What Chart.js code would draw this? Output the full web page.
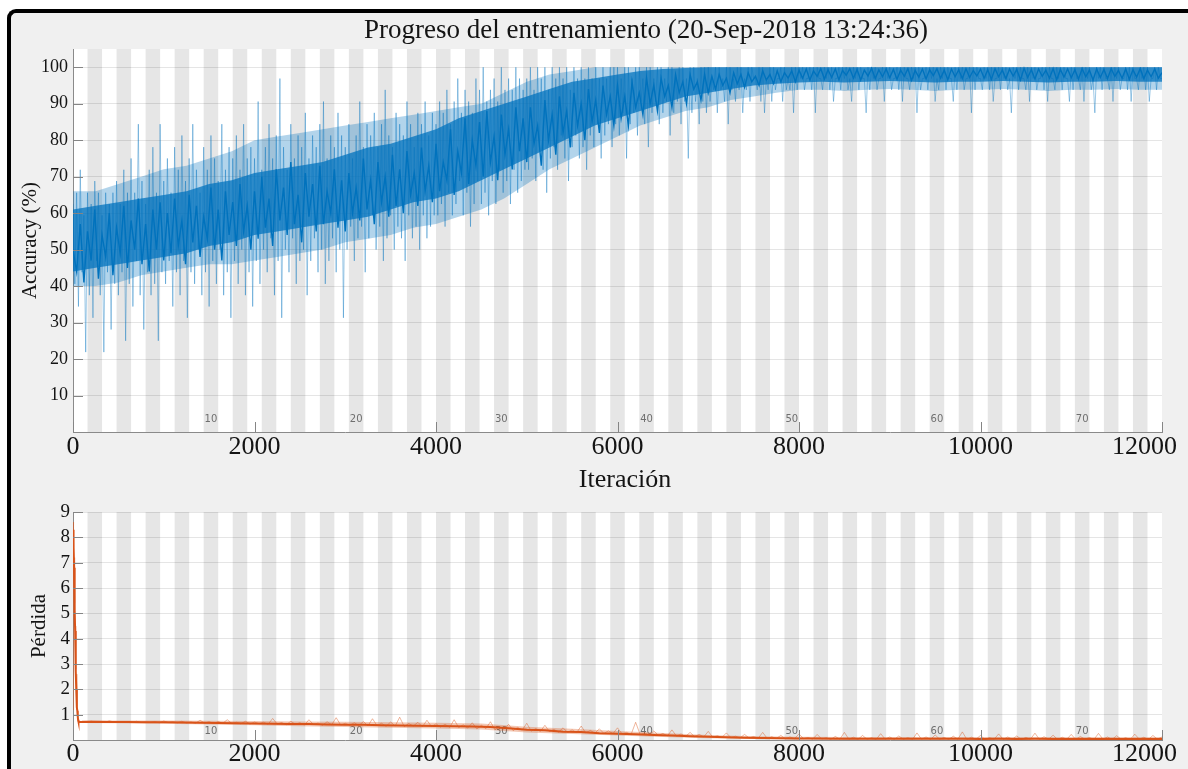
<!DOCTYPE html>
<html><head><meta charset="utf-8">
<script src="https://cdn.jsdelivr.net/npm/chart.js@4.4.1/dist/chart.umd.min.js"></script>
<style>
html,body{margin:0;padding:0;background:#fff;width:1188px;height:769px;overflow:hidden;}
#frame{position:absolute;left:7px;top:9px;width:1210px;height:800px;border-left:4px solid #000;border-top:4px solid #000;border-top-left-radius:9px;background:#f0f0f0;box-sizing:border-box;}
canvas{position:absolute;left:0;}
#c1{top:0}
#c2{top:490px}
</style></head><body>
<div id="frame"></div>
<canvas id="c1" width="1188" height="500"></canvas>
<canvas id="c2" width="1188" height="279"></canvas>
<script>
const figTitle = 'Progreso del entrenamiento (20-Sep-2018 13:24:36)';
const itersPerEpoch = 160;
const numEpochs = 75;
const epochLabels = [10, 20, 30, 40, 50, 60, 70];
const xTickValues = [0, 2000, 4000, 6000, 8000, 10000, 12000];
const accTickValues = [10, 20, 30, 40, 50, 60, 70, 80, 90, 100];
const lossTickValues = [1, 2, 3, 4, 5, 6, 7, 8, 9];

// mini-batch accuracy, one reading every 20 iterations
const accStep = 20;
const accRaw = [
62.5,40.6,65.6,34.4,71.9,43.8,59.4,21.9,65.6,37.5,62.5,31.3,68.8,46.9,65.6,37.5,59.4,21.9,65.6,43.8,62.5,28.1,65.6,40.6,68.8,37.5,62.5,43.8,71.9,25,65.6,40.6,75,34.4,65.6,46.9,84.4,37.5,68.8,28.1,62.5,43.8,71.9,37.5,78.1,40.6,65.6,25,84.4,43.8,
68.8,40.6,75,46.9,65.6,34.4,78.1,43.8,71.9,37.5,81.3,46.9,68.8,31.3,75,43.8,84.4,40.6,71.9,50,65.6,37.5,78.1,43.8,71.9,34.4,81.3,46.9,75,40.6,68.8,50,84.4,37.5,71.9,43.8,78.1,31.3,75,46.9,81.3,40.6,71.9,50,84.4,37.5,75,43.8,78.1,34.4,
75,46.9,90.6,40.6,71.9,50,78.1,43.8,84.4,53.1,75,37.5,81.3,46.9,96.9,31.3,78.1,50,71.9,43.8,84.4,53.1,75,40.6,81.3,46.9,78.1,50,87.5,37.5,75,46.9,81.3,53.1,78.1,43.8,84.4,50,90.6,40.6,75,46.9,81.3,53.1,78.1,43.8,87.5,50,81.3,31.3,
78.1,50,84.4,56.3,75,46.9,81.3,53.1,90.6,56.3,78.1,43.8,84.4,53.1,81.3,59.4,87.5,50,78.1,56.3,84.4,46.9,93.8,53.1,81.3,59.4,78.1,50,87.5,56.3,84.4,53.1,81.3,46.9,90.6,59.4,84.4,53.1,78.1,56.3,87.5,50,84.4,59.4,90.6,53.1,81.3,56.3,87.5,59.4,
84.4,59.4,90.6,62.5,87.5,56.3,93.8,65.6,84.4,59.4,90.6,62.5,96.9,68.8,87.5,59.4,93.8,65.6,90.6,56.3,87.5,62.5,96.9,68.8,93.8,62.5,100,65.6,90.6,59.4,93.8,68.8,96.9,62.5,90.6,71.9,100,65.6,93.8,68.8,96.9,62.5,93.8,71.9,100,65.6,96.9,68.8,93.8,71.9,
96.9,71.9,100,75,93.8,68.8,100,78.1,96.9,71.9,100,65.6,93.8,75,100,78.1,96.9,71.9,100,81.3,96.9,75,100,68.8,93.8,78.1,100,81.3,96.9,75,100,78.1,96.9,71.9,100,81.3,96.9,78.1,100,84.4,96.9,75,100,81.3,96.9,84.4,100,78.1,100,84.4,
100,81.3,96.9,87.5,100,75,100,84.4,96.9,87.5,100,81.3,100,90.6,96.9,84.4,100,78.1,100,87.5,96.9,90.6,100,84.4,100,87.5,96.9,90.6,100,81.3,100,87.5,96.9,90.6,100,84.4,100,90.6,96.9,75,100,87.5,100,90.6,96.9,84.4,100,90.6,100,87.5,
100,90.6,96.9,93.8,100,87.5,100,93.8,96.9,90.6,100,84.4,100,93.8,96.9,90.6,100,93.8,100,87.5,96.9,93.8,100,90.6,100,96.9,96.9,93.8,100,90.6,100,87.5,96.9,93.8,100,90.6,100,93.8,96.9,96.9,100,90.6,100,93.8,96.9,93.8,100,87.5,100,93.8,
100,96.9,100,93.8,96.9,96.9,100,93.8,100,87.5,100,96.9,96.9,93.8,100,96.9,100,93.8,100,90.6,96.9,96.9,100,93.8,100,96.9,100,93.8,96.9,90.6,100,96.9,100,93.8,100,96.9,96.9,87.5,100,93.8,100,96.9,100,93.8,96.9,96.9,100,90.6,100,96.9,
100,93.8,96.9,96.9,100,93.8,100,90.6,100,96.9,96.9,93.8,100,96.9,100,87.5,100,93.8,96.9,96.9,100,93.8,100,96.9,100,90.6,96.9,93.8,100,96.9,100,93.8,100,96.9,96.9,90.6,100,93.8,100,96.9,100,93.8,96.9,96.9,100,87.5,100,93.8,100,96.9,
96.9,93.8,100,96.9,100,93.8,100,90.6,96.9,96.9,100,93.8,100,96.9,100,93.8,96.9,87.5,100,96.9,100,93.8,100,96.9,96.9,93.8,100,90.6,100,96.9,100,93.8,96.9,96.9,100,93.8,100,90.6,100,96.9,96.9,93.8,100,96.9,100,93.8,100,96.9,96.9,90.6,
100,93.8,100,96.9,96.9,93.8,100,90.6,100,96.9,100,93.8,96.9,87.5,100,96.9,100,93.8,100,96.9,96.9,93.8,100,90.6,100,96.9,100,93.8,96.9,96.9,100,93.8,100,90.6,100,96.9,96.9,93.8,100,96.9,100,93.8,100,90.6,96.9,96.9,100,93.8,100,96.9,
96.9];
// smoothed accuracy, one reading every 40 iterations
const accSmoothStep = 40;
const accSmooth = [
50,44,57,41,55,47,61,42,54,48,60,43,56,49,62,45,58,50,64,46,57,44,61,50,63,
47,60,49,64,51,58,46,65,52,62,48,59,53,67,50,61,47,66,54,63,51,68,55,62,50,
66,53,70,56,64,51,72,58,67,54,74,57,65,52,71,59,68,55,73,57,66,60,72,56,69,
55,71,60,67,58,75,61,69,57,74,63,70,59,76,62,72,60,77,65,71,62,78,66,73,63,
79,66,74,69,83,65,77,71,86,68,80,73,85,70,88,74,81,69,87,76,83,72,89,77,86,
74,89,79,84,73,91,80,87,76,92,82,88,78,93,84,90,80,94,85,91,82,95,87,92,84,
95,86,92,84,96,89,93,87,97,90,95,88,97,92,95,89,98,93,96,90,98,94,96,91,98,
93,97.5,94,98,95,97,93,98.5,95.5,98,94.5,98.5,96,97.5,95,99,96.5,98,95.5,99,96,98.5,97,99,96,
99.2,97,99.5,96.5,99,97.5,99.6,96.8,99.3,97.2,99.5,96.6,99.1,97.8,99.6,97,99.4,96.5,99.2,97.6,99.7,96.9,99.3,97.4,99.5,
97.1,99.4,96.7,99.2,97.5,99.6,96.4,99.1,97.3,99.5,96.8,99.3,97.7,99.6,97,99.2,96.6,99.5,97.4,99.3,96.9,99.6,97.2,99.1,97.6,
99.5,97,99.3,96.7,99.6,97.4,99.2,96.9,99.5,97.6,99.4,96.5,99.7,97.2,99.3,96.8,99.5,97.5,99.2,97,99.6,96.6,99.4,97.3,99.5,
97.1,99.3,96.8,99.6,97.4,99.2,96.5,99.5,97.2,99.4,96.9,99.6,97.5,99.1,97,99.5,96.7,99.3,97.3,99.6,96.9,99.2,97.4,99.5,97,
98.5];
// dense cores of the two accuracy traces, read every 250 iterations
const accBandStep = 250;
const accLightLo = [40,40,41,43,44,45,46,46,47,48,49,50,52,53,54,56,57,59,61,64,68,72,75,78,81,84,86,88,89,91,92,93,
  93.8,93.8,93.5,93.8,94,93.8,93.5,93.8,93.8,94,93.8,93.5,93.8,93.8,94,93.8,93.8];
const accLightHi = [66,66,68,70,72,73,75,77,80,81,82,83,84,85,86,87,88,89,90,93,96,98,99,
  100,100,100,100,100,100,100,100,100,100,100,100,100,100,100,100,100,100,100,100,100,100,100,100,100,100];
const accDarkLo = [44,45,46,47,48,49,51,52,54,55,56,57,58,59,61,63,64,66,69,72,75,78,81,84,86,88,90,92,93,94,95,95.5,
  95.8,96,95.8,96,96.2,96,95.8,96,96,96.2,96,95.8,96,96,96.2,96,96];
const accDarkHi = [61,62,63,64,65,66,68,69,71,72,73,74,76,78,79,81,83,86,88,90,92,94,96,97,98,99,99.5,99.8,
  100,100,100,100,100,100,100,100,100,100,100,100,100,100,100,100,100,100,100,100,100];

// loss: first iterations in detail, then regular readings
const lossEarlyIter = [0, 4, 8, 12, 16, 20, 24, 28, 32, 36, 40, 44, 48, 52, 56, 60, 80];
const lossEarlyRaw = [1.2, 8.6, 8.0, 7.2, 6.3, 5.4, 4.5, 3.6, 2.8, 2.0, 1.2, 2.6, 1.1, 0.9, 0.76, 0.72, 0.7];
const lossEarlySmooth = [8.3, 8.2, 7.6, 6.8, 6.0, 5.1, 4.3, 3.5, 2.7, 2.0, 1.5, 1.3, 1.15, 0.95, 0.8, 0.73, 0.71];
const lossRawStart = 100, lossRawStep = 50;
const lossRaw = [
0.73,0.70,0.74,0.71,0.72,0.70,0.76,0.71,0.73,0.69,0.72,0.70,0.74,0.69,0.72,0.70,0.73,0.68,0.75,0.69,
0.72,0.68,0.74,0.67,0.71,0.66,0.78,0.67,0.72,0.65,0.73,0.66,0.80,0.65,0.70,0.64,0.74,0.63,0.71,0.64,
0.70,0.62,0.85,0.63,0.69,0.60,0.74,0.62,0.68,0.59,0.80,0.61,0.67,0.58,0.72,0.60,0.88,0.59,0.66,0.58,
0.68,0.57,0.73,0.56,0.84,0.57,0.66,0.54,0.71,0.55,0.90,0.53,0.65,0.55,0.70,0.52,0.78,0.53,0.64,0.51,
0.62,0.50,0.80,0.49,0.60,0.47,0.68,0.44,0.58,0.45,0.72,0.40,0.52,0.42,0.62,0.37,0.50,0.39,0.66,0.35,
0.45,0.34,0.58,0.33,0.42,0.31,0.48,0.30,0.40,0.29,0.55,0.28,0.38,0.27,0.44,0.26,0.36,0.25,0.48,0.24,
0.30,0.22,0.70,0.21,0.28,0.19,0.36,0.18,0.26,0.16,0.40,0.15,0.24,0.14,0.30,0.13,0.22,0.12,0.34,0.11,
0.17,0.10,0.28,0.09,0.15,0.08,0.22,0.08,0.14,0.07,0.30,0.06,0.13,0.06,0.18,0.05,0.12,0.05,0.24,0.05,
0.10,0.03,0.22,0.04,0.09,0.02,0.14,0.03,0.30,0.03,0.11,0.02,0.18,0.03,0.09,0.02,0.25,0.03,0.12,0.02,
0.16,0.03,0.09,0.02,0.28,0.03,0.12,0.02,0.20,0.03,0.10,0.02,0.15,0.03,0.32,0.02,0.11,0.03,0.18,0.02,
0.09,0.03,0.24,0.02,0.12,0.03,0.16,0.02,0.10,0.03,0.27,0.02,0.13,0.03,0.19,0.02,0.11,0.03,0.22,0.02,
0.14,0.03,0.10,0.02,0.26,0.03,0.12,0.02,0.17,0.03,0.09,0.02,0.23,0.03,0.11,0.02,0.18,0.03,0.12,0.04];
const lossSmoothStart = 200, lossSmoothStep = 200;
const lossSmooth = [
0.72,0.71,0.715,0.70,0.70,0.69,0.68,0.675,0.66,0.65,
0.64,0.63,0.635,0.61,0.60,0.60,0.58,0.57,0.56,0.55,
0.54,0.53,0.51,0.46,0.40,0.38,0.33,0.32,0.27,0.25,
0.23,0.20,0.18,0.15,0.13,0.11,0.09,0.08,0.07,0.06,
0.055,0.05,0.052,0.048,0.05,0.046,0.048,0.045,0.047,0.044,
0.046,0.043,0.045,0.042,0.044,0.041,0.043,0.040,0.042,0.040];
const lossBandIter = [100,500,1000,1500,2000,2500,3000,3500,4000,4500,5000,5500,6000,6500,7000,7500,8000,8500,9000,9500,10000,10500,11000,11500,12000];
const lossBandLo = [0.67,0.66,0.64,0.61,0.58,0.54,0.51,0.48,0.45,0.41,0.30,0.24,0.18,0.12,0.07,0.04,0.02,0.01,0.01,0.01,0.01,0.01,0.01,0.01,0.01];
const lossBandHi = [0.77,0.77,0.77,0.76,0.75,0.73,0.72,0.70,0.68,0.65,0.52,0.44,0.36,0.28,0.20,0.15,0.13,0.12,0.12,0.12,0.12,0.12,0.12,0.12,0.12];

const FONT = '"Liberation Serif", "Times New Roman", serif';
const INK = '#141414';
const pts = (vals, start, step) => vals.map((v, i) => ({x: start + i * step, y: v}));
const ptsAt = (iters, vals) => iters.map((it, i) => ({x: it, y: vals[i]}));

function decor(cfg) {
  return {
    id: 'decor',
    beforeDraw(chart) {
      const {ctx, chartArea: a} = chart; const x = chart.scales.x;
      ctx.save();
      ctx.fillStyle = '#ffffff';
      ctx.fillRect(a.left, a.top, a.right - a.left, a.bottom - a.top);
      ctx.fillStyle = '#e6e6e6';
      for (let e = 2; e <= numEpochs; e += 2) {
        const x0 = x.getPixelForValue((e - 1) * itersPerEpoch);
        const x1 = Math.min(x.getPixelForValue(e * itersPerEpoch), a.right);
        ctx.fillRect(x0, a.top, x1 - x0, a.bottom - a.top);
      }
      ctx.fillStyle = '#6f6f6f';
      ctx.font = '10px "DejaVu Sans", sans-serif';
      ctx.textAlign = 'center'; ctx.textBaseline = 'middle';
      epochLabels.forEach(e => ctx.fillText(String(e), x.getPixelForValue((e - 0.5) * itersPerEpoch), a.bottom - cfg.epochOffset));
      if (cfg.title) {
        ctx.fillStyle = INK;
        ctx.font = '27px ' + FONT;
        ctx.fillText(cfg.title, cfg.titleX, cfg.titleY);
      }
      ctx.restore();
    },
    afterDatasetsDraw(chart) {
      const {ctx, chartArea: a} = chart; const x = chart.scales.x, y = chart.scales.y;
      ctx.save();
      ctx.strokeStyle = '#858585'; ctx.lineWidth = 1;
      ctx.beginPath();
      y.ticks.forEach(t => { const py = Math.round(y.getPixelForValue(t.value)) + 0.5; ctx.moveTo(a.left, py); ctx.lineTo(a.left + 10, py); });
      x.ticks.forEach(t => { const px = Math.round(x.getPixelForValue(t.value)) + 0.5; ctx.moveTo(px, a.bottom); ctx.lineTo(px, a.bottom - 10); });
      ctx.stroke();
      ctx.fillStyle = INK; ctx.font = '26px ' + FONT; ctx.textAlign = 'center'; ctx.textBaseline = 'middle';
      x.ticks.forEach(t => {
        const label = String(t.value);
        const w = ctx.measureText(label).width;
        let px = x.getPixelForValue(t.value);
        px = Math.min(px, chart.width - cfg.rightLimit - w / 2);
        ctx.fillText(label, px, a.bottom + cfg.xLabelOffset);
      });
      if (cfg.xTitle) {
        ctx.font = '26px ' + FONT;
        ctx.fillText(cfg.xTitle, cfg.xTitleX, cfg.xTitleY);
      }
      ctx.restore();
    }
  };
}

function makeChart(id, cfg) {
  const ds = [];
  const band = (hi, lo, color, order) => {
    ds.push({ data: hi, fill: '+1', backgroundColor: color, borderColor: 'transparent', borderWidth: 0, order });
    ds.push({ data: lo, fill: false, borderColor: 'transparent', borderWidth: 0, order });
  };
  band(cfg.lightHi, cfg.lightLo, cfg.lightFill, 6);
  ds.push({ data: cfg.raw, borderColor: cfg.light, borderWidth: 1, order: 4 });
  if (cfg.darkHi) band(cfg.darkHi, cfg.darkLo, cfg.darkFill, 2);
  ds.push({ data: cfg.smooth, borderColor: cfg.dark, borderWidth: cfg.smoothWidth, order: 1 });
  return new Chart(document.getElementById(id), {
    type: 'line',
    data: { datasets: ds },
    options: {
      responsive: false, animation: false, parsing: false, normalized: true, events: [],
      elements: { point: { radius: 0 }, line: { tension: 0 } },
      layout: { padding: { left: 0, right: 26, top: cfg.padTop, bottom: 0 } },
      plugins: { legend: { display: false }, tooltip: { enabled: false }, title: { display: false } },
      scales: {
        x: {
          type: 'linear', min: 0, max: 12000,
          afterBuildTicks: s => { s.ticks = xTickValues.map(v => ({ value: v })); },
          afterFit: s => { s.height = cfg.xHeight; s.paddingLeft = 0; s.paddingRight = 0; },
          ticks: { display: false },
          grid: { display: false },
          border: { display: true, color: '#8a8a8a', width: 1 },
          title: { display: false }
        },
        y: {
          type: 'linear', min: 0, max: cfg.yMax,
          afterBuildTicks: s => { s.ticks = cfg.yTicks.map(v => ({ value: v })); },
          afterFit: s => { s.width = 73; s.paddingTop = 0; s.paddingBottom = 0; },
          ticks: { color: INK, font: { family: FONT, size: cfg.yTickSize }, padding: cfg.yTickPad, callback: v => String(v) },
          grid: { color: 'rgba(0,0,0,0.1)', drawTicks: false },
          border: { display: true, color: '#8a8a8a' },
          title: { display: true, text: cfg.yTitle, color: INK, font: { family: FONT, size: 21, lineHeight: 1 }, padding: { top: cfg.yTitlePad, bottom: 0 } }
        }
      }
    },
    plugins: [decor(cfg)]
  });
}

makeChart('c1', {
  raw: pts(accRaw, 0, accStep), smooth: pts(accSmooth, 0, accSmoothStep),
  lightHi: pts(accLightHi, 0, accBandStep), lightLo: pts(accLightLo, 0, accBandStep),
  darkHi: pts(accDarkHi, 0, accBandStep), darkLo: pts(accDarkLo, 0, accBandStep),
  dark: '#0072BD', light: 'rgba(0,114,189,0.38)', lightFill: 'rgba(0,114,189,0.3)', darkFill: 'rgba(0,114,189,0.74)', smoothWidth: 1.4,
  padTop: 49, xHeight: 68, yMax: 105, yTicks: accTickValues, yTickSize: 18, yTickPad: 5,
  yTitle: 'Accuracy (%)', yTitlePad: 19.5, epochOffset: 13, xLabelOffset: 15, rightLimit: 11,
  xTitle: 'Iteración', xTitleX: 625, xTitleY: 480, title: figTitle, titleX: 646, titleY: 31
});
makeChart('c2', {
  raw: ptsAt(lossEarlyIter, lossEarlyRaw).concat(pts(lossRaw, lossRawStart, lossRawStep)),
  smooth: ptsAt(lossEarlyIter, lossEarlySmooth).concat(pts(lossSmooth, lossSmoothStart, lossSmoothStep)),
  lightHi: ptsAt(lossBandIter, lossBandHi), lightLo: ptsAt(lossBandIter, lossBandLo),
  dark: '#D95319', light: 'rgba(217,83,25,0.42)', lightFill: 'rgba(217,83,25,0.32)', smoothWidth: 2,
  padTop: 22, xHeight: 29, yMax: 9, yTicks: lossTickValues, yTickSize: 19, yTickPad: 3,
  yTitle: 'Pérdida', yTitlePad: 28.5, epochOffset: 9, xLabelOffset: 14, rightLimit: 11
});
</script>
</body></html>
